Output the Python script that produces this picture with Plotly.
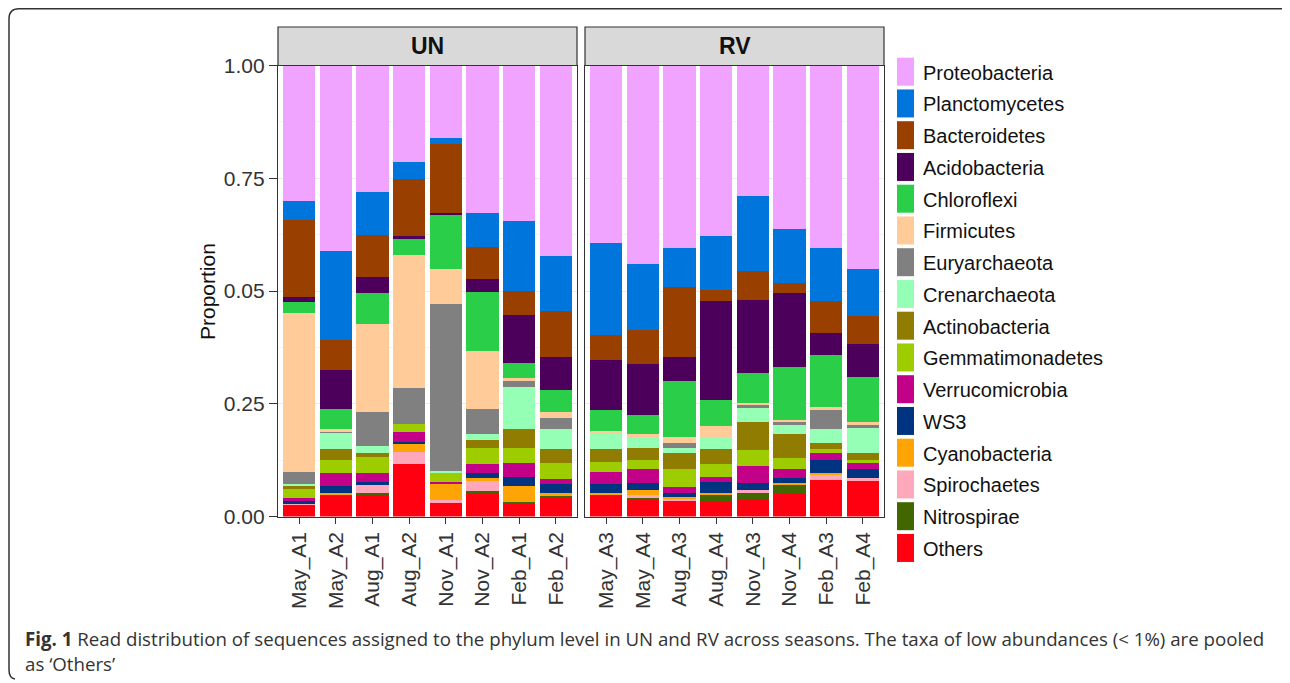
import plotly.graph_objects as go

# ---------------- data ----------------
samples_un = ["May_A1", "May_A2", "Aug_A1", "Aug_A2", "Nov_A1", "Nov_A2", "Feb_A1", "Feb_A2"]
samples_rv = ["May_A3", "May_A4", "Aug_A3", "Aug_A4", "Nov_A3", "Nov_A4", "Feb_A3", "Feb_A4"]

# values: 8 UN samples followed by 8 RV samples (proportions)
others           = [0.025, 0.047, 0.049, 0.116, 0.030, 0.053, 0.028, 0.042, 0.047, 0.039, 0.037, 0.033, 0.039, 0.049, 0.082, 0.078]
nitrospirae      = [0.000, 0.003, 0.003, 0.000, 0.000, 0.003, 0.005, 0.006, 0.000, 0.005, 0.000, 0.016, 0.015, 0.020, 0.000, 0.004]
spirochaetes     = [0.005, 0.000, 0.018, 0.027, 0.006, 0.026, 0.000, 0.000, 0.000, 0.003, 0.003, 0.000, 0.004, 0.000, 0.012, 0.004]
cyanobacteria    = [0.000, 0.002, 0.000, 0.019, 0.035, 0.004, 0.034, 0.004, 0.006, 0.011, 0.004, 0.004, 0.000, 0.005, 0.002, 0.000]
ws3              = [0.004, 0.016, 0.007, 0.004, 0.000, 0.011, 0.021, 0.019, 0.018, 0.016, 0.008, 0.023, 0.016, 0.012, 0.029, 0.019]
verrucomicrobia  = [0.008, 0.029, 0.020, 0.022, 0.006, 0.019, 0.031, 0.013, 0.028, 0.032, 0.013, 0.012, 0.038, 0.019, 0.016, 0.014]
gemmatimonadetes = [0.022, 0.028, 0.035, 0.017, 0.020, 0.037, 0.032, 0.035, 0.022, 0.019, 0.041, 0.028, 0.035, 0.025, 0.008, 0.006]
actinobacteria   = [0.003, 0.024, 0.009, 0.000, 0.000, 0.016, 0.043, 0.030, 0.028, 0.028, 0.035, 0.033, 0.062, 0.052, 0.013, 0.015]
crenarchaeota    = [0.006, 0.039, 0.016, 0.000, 0.005, 0.013, 0.093, 0.045, 0.037, 0.022, 0.012, 0.026, 0.032, 0.024, 0.032, 0.056]
euryarchaeota    = [0.026, 0.002, 0.075, 0.079, 0.369, 0.056, 0.014, 0.025, 0.000, 0.000, 0.010, 0.000, 0.008, 0.004, 0.044, 0.010]
firmicutes       = [0.352, 0.004, 0.195, 0.295, 0.078, 0.128, 0.005, 0.013, 0.003, 0.007, 0.014, 0.026, 0.003, 0.005, 0.004, 0.003]
chloroflexi      = [0.025, 0.044, 0.069, 0.038, 0.122, 0.132, 0.034, 0.049, 0.047, 0.044, 0.124, 0.057, 0.066, 0.116, 0.117, 0.101]
acidobacteria    = [0.011, 0.087, 0.035, 0.004, 0.003, 0.029, 0.106, 0.072, 0.111, 0.112, 0.052, 0.219, 0.162, 0.165, 0.048, 0.072]
bacteroidetes    = [0.171, 0.067, 0.093, 0.127, 0.152, 0.071, 0.054, 0.102, 0.056, 0.076, 0.156, 0.025, 0.064, 0.022, 0.070, 0.062]
planctomycetes   = [0.042, 0.196, 0.095, 0.038, 0.013, 0.076, 0.156, 0.123, 0.204, 0.145, 0.086, 0.119, 0.166, 0.119, 0.118, 0.104]
proteobacteria   = [0.300, 0.412, 0.281, 0.214, 0.161, 0.326, 0.344, 0.422, 0.393, 0.441, 0.405, 0.379, 0.290, 0.363, 0.405, 0.452]

# stacking order bottom -> top
phyla = ["Others", "Nitrospirae", "Spirochaetes", "Cyanobacteria", "WS3", "Verrucomicrobia",
         "Gemmatimonadetes", "Actinobacteria", "Crenarchaeota", "Euryarchaeota", "Firmicutes",
         "Chloroflexi", "Acidobacteria", "Bacteroidetes", "Planctomycetes", "Proteobacteria"]
series = [others, nitrospirae, spirochaetes, cyanobacteria, ws3, verrucomicrobia,
          gemmatimonadetes, actinobacteria, crenarchaeota, euryarchaeota, firmicutes,
          chloroflexi, acidobacteria, bacteroidetes, planctomycetes, proteobacteria]
colors = ["#FF0010", "#426600", "#FFA8BB", "#FFA405", "#003380", "#C20088",
          "#9DCC00", "#8F7C00", "#94FFB5", "#808080", "#FFCC99",
          "#2BCE48", "#4C005C", "#993F00", "#0075DC", "#F0A3FF"]

y_tickvals = [0.0, 0.25, 0.5, 0.75, 1.0]
y_ticktext = ["0.00", "0.25", "0.05", "0.75", "1.00"]
panel_labels = ["UN", "RV"]
caption_bold = "Fig. 1"
caption_line1 = " Read distribution of sequences assigned to the phylum level in UN and RV across seasons. The taxa of low abundances (< 1%) are pooled"
caption_line2 = "as \u2018Others\u2019"

# ---------------- figure ----------------
# page body has an 8px margin, so the figure starts at (8, 8) on screen
OFF = 8
W, H = 1282, 675
def px(x):
    return (x - OFF) / W
def py(y):
    return 1 - (y - OFF) / H

FONT = "Liberation Sans, Arial, sans-serif"
fig = go.Figure()

for name, vals, col in zip(phyla, series, colors):
    fig.add_trace(go.Bar(x=samples_un, y=vals[:8], name=name, marker=dict(color=col, line=dict(width=0)),
                         width=0.88, xaxis="x", yaxis="y", showlegend=False))
    fig.add_trace(go.Bar(x=samples_rv, y=vals[8:], name=name, marker=dict(color=col, line=dict(width=0)),
                         width=0.88, xaxis="x2", yaxis="y2", showlegend=False))

ydom = [py(516.5), py(65.5)]
common_x = dict(type="category", range=[-0.575, 7.575], tickangle=-90, ticks="outside", ticklen=6,
                tickcolor="#333333", showline=True, mirror=True, linecolor="#333333", linewidth=1.2,
                showgrid=False, automargin=False, tickfont=dict(family=FONT, size=21, color="#333333"), fixedrange=True)
common_y = dict(range=[0, 1], showline=True, mirror=True, linecolor="#333333", linewidth=1.2,
                showgrid=True, gridcolor="#EBEBEB", gridwidth=1, zeroline=False, domain=ydom, automargin=False,
                minor=dict(tickvals=[0.125, 0.375, 0.625, 0.875], showgrid=True, gridcolor="#F4F4F4", ticklen=0))

fig.update_layout(
    width=W, height=H, margin=dict(l=0, r=0, t=0, b=0, autoexpand=False),
    paper_bgcolor="white", plot_bgcolor="white", barmode="stack", showlegend=False,
    xaxis=dict(domain=[px(278), px(577)], anchor="y", categoryarray=samples_un, categoryorder="array", **common_x),
    xaxis2=dict(domain=[px(585), px(884)], anchor="y2", categoryarray=samples_rv, categoryorder="array", **common_x),
    yaxis=dict(anchor="x", tickmode="array", tickvals=y_tickvals, ticktext=y_ticktext, ticks="outside",
               ticklen=8, tickcolor="#333333", tickfont=dict(family=FONT, size=21, color="#333333"), **common_y),
    yaxis2=dict(anchor="x2", matches="y", tickmode="array", tickvals=y_tickvals, showticklabels=False, ticks="", **common_y),
)

shapes = []
annotations = []

# strips
for (x0, x1), lab in zip([(278, 577), (585, 884)], panel_labels):
    shapes.append(dict(type="rect", xref="paper", yref="paper", x0=px(x0), x1=px(x1), y0=py(65.5), y1=py(27),
                       fillcolor="#D9D9D9", line=dict(color="#333333", width=1.2)))
    annotations.append(dict(xref="paper", yref="paper", x=px((x0 + x1) / 2), y=py(46.5), text="<b>%s</b>" % lab,
                            showarrow=False, xanchor="center", yanchor="middle",
                            font=dict(family=FONT, size=23, color="#111111")))

# y title
annotations.append(dict(xref="paper", yref="paper", x=px(207), y=py(292), text="Proportion", textangle=-90,
                        showarrow=False, xanchor="center", yanchor="middle",
                        font=dict(family=FONT, size=21, color="#111111")))

# legend (top -> bottom order)
for i, (name, col) in enumerate(zip(phyla[::-1], colors[::-1])):
    c = 71.7 + i * 31.75
    shapes.append(dict(type="rect", xref="paper", yref="paper", x0=px(897), x1=px(914), y0=py(c + 14), y1=py(c - 14),
                       fillcolor=col, line=dict(width=0)))
    annotations.append(dict(xref="paper", yref="paper", x=px(921), y=py(c + 1), text=name, showarrow=False,
                            xanchor="left", yanchor="middle", font=dict(family=FONT, size=20, color="#111111")))

# caption
annotations.append(dict(xref="paper", yref="paper", x=px(23), y=py(638),
                        text="<b>%s</b>%s" % (caption_bold, caption_line1), showarrow=False,
                        xanchor="left", yanchor="middle", font=dict(family="Open Sans", size=18.7, color="#333333")))
annotations.append(dict(xref="paper", yref="paper", x=px(23), y=py(663), text=caption_line2, showarrow=False,
                        xanchor="left", yanchor="middle", font=dict(family="Open Sans", size=18.7, color="#333333")))

# frame (top and left edges with rounded corners)
frame = "M %f,%f L %f,%f Q %f,%f %f,%f L %f,%f Q %f,%f %f,%f" % (
    px(1290), py(8.8), px(19), py(8.8), px(9), py(8.8), px(9), py(18.8), px(9), py(670), px(9), py(678), px(15), py(679))
shapes.append(dict(type="path", xref="paper", yref="paper", path=frame, line=dict(color="#333333", width=1.5)))

fig.update_layout(shapes=shapes, annotations=annotations)
fig.write_html("out.html")
